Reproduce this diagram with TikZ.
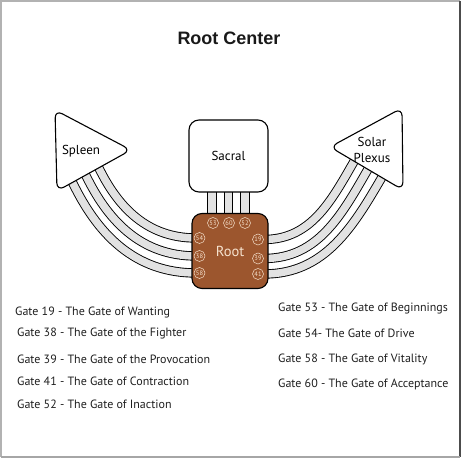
\documentclass[tikz,border=0pt]{standalone}
\usepackage{fontspec}
\setmainfont{PT Sans}
\newfontfamily\titlefont{Liberation Sans}
\usetikzlibrary{backgrounds}
\definecolor{rootbrown}{RGB}{156,86,46}
\definecolor{cream}{RGB}{246,226,206}
\definecolor{chan}{RGB}{226,226,226}
\begin{document}
\begin{tikzpicture}[x=1pt,y=1pt,
  centre/.style={draw=black, line width=1.1pt, rounded corners=8pt, fill=white},
  channel/.style={draw=black, line width=0.9pt, double=chan, double distance=7.5pt},
  gate/.style={circle, draw=cream, line width=0.5pt, minimum size=11pt, inner sep=0pt, text=cream, font=\fontsize{6.5}{7}\selectfont},
  lbl/.style={font=\fontsize{13}{15.5}\selectfont, align=center, inner sep=0pt},
  item/.style={anchor=west, inner sep=0pt, font=\fontsize{12}{14}\selectfont, text=black!88}]
\useasboundingbox (0,0) rectangle (474,460);
% frame
\draw[line width=2pt, black!30] (1,3) -- (1,459) -- (460,459);
\draw[line width=1.5pt, black!70] (460,459) -- (460,3);
\draw[line width=2pt, black!35] (1,3) -- (460,3);

\node[font=\titlefont\bfseries\fontsize{18}{20}\selectfont, text=black!90] (title) at (229,422) {Root Center};

% Spleen
\draw[centre] (55,350) -- (131,310) -- (57,269) -- cycle;
\node[lbl] (spleen) at (81,309) {Spleen};
% Solar Plexus
\draw[centre] (330,313) -- (402,352) -- (403,270) -- cycle;
\node[lbl] (sp) at (372,310) {Solar\\Plexus};
% Sacral
\node[draw=black, line width=1.1pt, rounded corners=10pt, fill=white, minimum width=79pt, minimum height=72pt, font=\fontsize{13}{15}\selectfont] (sacral) at (228.5,304) {Sacral};
% Root
\node[draw=black, line width=1.1pt, rounded corners=10pt, fill=rootbrown, minimum width=76pt, minimum height=75pt, text=cream, font=\fontsize{14.5}{16}\selectfont] (root) at (230,209) {Root};

% gates
\node[gate] (g53) at (213,237) {53};
\node[gate] (g60) at (229,237) {60};
\node[gate] (g52) at (245,237) {52};
\node[gate] (g54) at (199.5,222) {54};
\node[gate] (g38) at (199.5,204) {38};
\node[gate] (g58) at (199.5,187) {58};
\node[gate] (g19) at (258,220.5) {19};
\node[gate] (g39) at (258,201.5) {39};
\node[gate] (g41) at (258,186) {41};

% channel end points
\coordinate (s58) at (70.8,281.2);
\coordinate (s38) at (84.0,288.5);
\coordinate (s54) at (97.1,295.8);
\coordinate (r54) at (196,222);
\coordinate (r38) at (196,204);
\coordinate (r58) at (196,187);
\coordinate (r19) at (264,220.5);
\coordinate (r39) at (264,201.5);
\coordinate (r41) at (264,186);
\coordinate (p19) at (356.1,302.2);
\coordinate (p39) at (369.9,294.1);
\coordinate (p41) at (383.8,286.0);
\coordinate (r53) at (212,244);
\coordinate (r60) at (228.5,244);
\coordinate (r52) at (245,244);
\coordinate (c53) at (212,271);
\coordinate (c60) at (228.5,271);
\coordinate (c52) at (245,271);

\begin{scope}[on background layer]
  \draw[channel] (s58) to[out=-65, in=180] (r58);
  \draw[channel] (s38) to[out=-65, in=180] (r38);
  \draw[channel] (s54) to[out=-65, in=180] (r54);
  \draw[channel] (r19) to[out=0, in=240] (p19);
  \draw[channel] (r39) to[out=0, in=240] (p39);
  \draw[channel] (r41) to[out=0, in=240] (p41);
  \draw[channel] (r53) -- (c53);
  \draw[channel] (r60) -- (c60);
  \draw[channel] (r52) -- (c52);
\end{scope}

% gate list
\node[item] (t19) at (15,147) {Gate 19 - The Gate of Wanting};
\node[item] (t38) at (17,126) {Gate 38 - The Gate of the Fighter};
\node[item] (t39) at (17,101) {Gate 39 - The Gate of the Provocation};
\node[item] (t41) at (17,79) {Gate 41 - The Gate of Contraction};
\node[item] (t52) at (17,56) {Gate 52 - The Gate of Inaction};
\node[item] (t53) at (278,151) {Gate 53 - The Gate of Beginnings};
\node[item] (t54) at (278,127) {Gate 54- The Gate of Drive};
\node[item] (t58) at (278,101) {Gate 58 - The Gate of Vitality};
\node[item] (t60) at (278,76) {Gate 60 - The Gate of Acceptance};
\end{tikzpicture}
\end{document}
